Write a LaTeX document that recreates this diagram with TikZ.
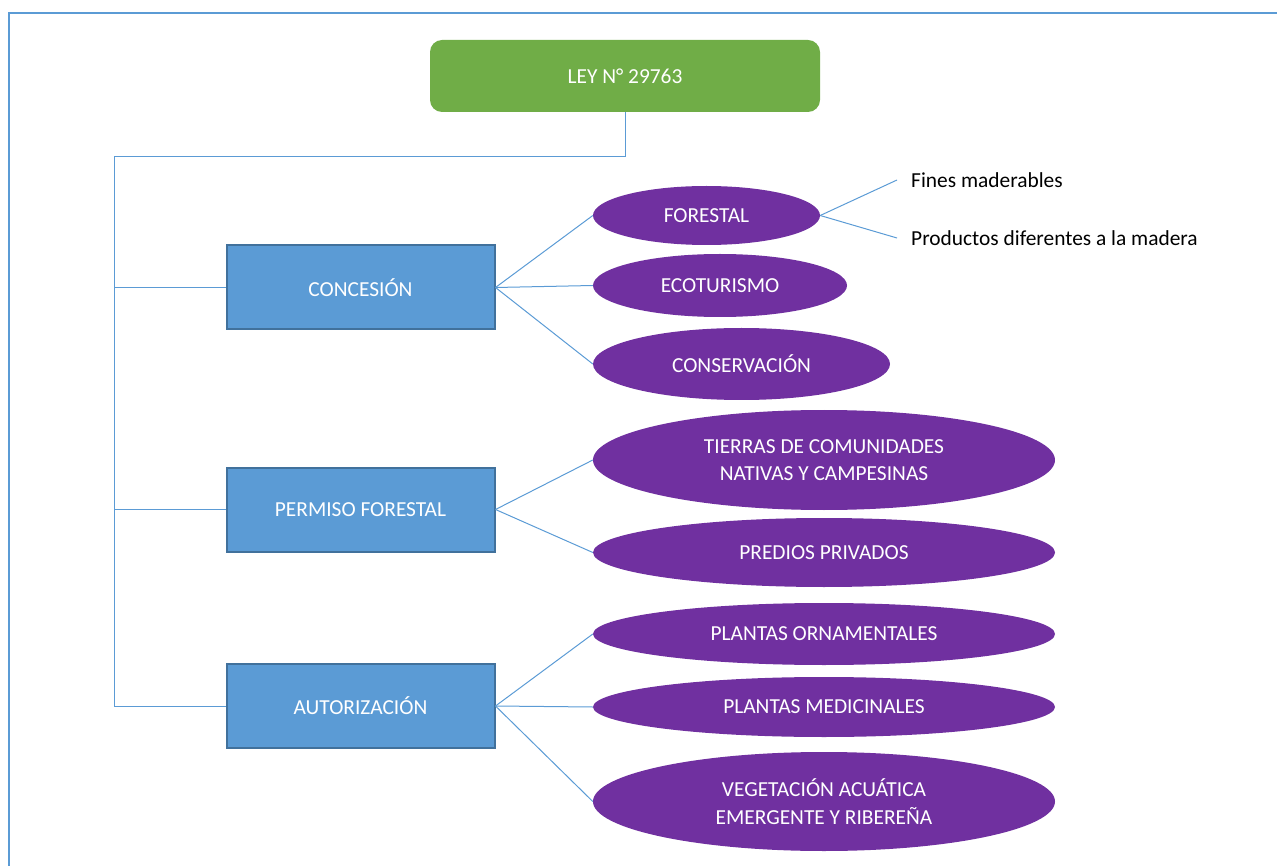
\documentclass[tikz,border=0pt]{standalone}
\usepackage{fontspec}
\setmainfont{Carlito}
\usetikzlibrary{shapes.geometric}
\definecolor{leyGreen}{HTML}{70AD47}
\definecolor{boxBlue}{HTML}{5B9BD5}
\definecolor{boxEdge}{HTML}{41719C}
\definecolor{ovalPurple}{HTML}{7030A0}
\tikzset{
  law/.style={rectangle,rounded corners=12pt,fill=leyGreen,text=white,
    minimum width=390pt,minimum height=72pt,inner sep=0pt},
  kind/.style={rectangle,fill=boxBlue,draw=boxEdge,line width=2pt,text=white,
    minimum width=268pt,minimum height=84pt,inner sep=0pt},
  oval/.style={ellipse,fill=ovalPurple,text=white,inner sep=0pt,align=center},
  link/.style={draw=boxBlue,line width=1pt},
  note/.style={anchor=west,inner sep=0pt,text=black}
}
\begin{document}
\begin{tikzpicture}[x=1pt,y=-1pt,font=\fontsize{21.4}{27.5}\selectfont]
  % page size
  \useasboundingbox (0,0) rectangle (1277,866);

  % frame
  \draw[boxBlue,line width=2.5pt] (9,866) -- (9,13) -- (1277,13);

  % help function: oval(name,x,y,width,height,text)
  \def\oval(#1,#2,#3,#4,#5,#6){\node[oval,minimum width=#4pt,minimum height=#5pt] (#1) at (#2,#3) {#6};}

  % LAW
  \node[law] (ley) at (625,76) {LEY N° 29763};

  % KINDS
  \node[kind] (conc) at (360.5,287.5) {CONCESIÓN};
  \node[kind] (perm) at (360.5,509.5) {PERMISO FORESTAL};
  \node[kind] (auto) at (360.5,706) {AUTORIZACIÓN};

  % OVALS
  \oval(fore,706.5,215.5,227,59,FORESTAL)
  \oval(ecot,720,285.5,254,63,ECOTURISMO)
  \oval(cons,741.5,364,297,72,CONSERVACIÓN)
  \oval(tier,824,460,462,100,TIERRAS DE COMUNIDADES\\NATIVAS Y CAMPESINAS)
  \oval(pred,824,552.5,462,69,PREDIOS PRIVADOS)
  \oval(orna,824,634,462,62,PLANTAS ORNAMENTALES)
  \oval(medi,824,707,462,60,PLANTAS MEDICINALES)
  \oval(vege,824,801.5,462,99,VEGETACIÓN ACUÁTICA\\EMERGENTE Y RIBEREÑA)

  % NOTES
  \node[note] (fine) at (911,180) {Fines maderables};
  \node[note] (prod) at (911,238) {Productos diferentes a la madera};

  % trunk
  \coordinate (knee) at (114,157);
  \draw[link] (ley.south) |- (knee);
  \foreach \k in {conc,perm,auto}
    \draw[link] (\k.west) -| (knee);

  % branches
  \foreach \k/\o in {conc/fore,conc/ecot,conc/cons,perm/tier,perm/pred,auto/orna,auto/medi,auto/vege}
    \draw[link] (\k.east) -- (\o.west);
  \draw[link] (fore.east) -- ([xshift=-14pt]fine.west);
  \draw[link] (fore.east) -- ([xshift=-14pt]prod.west);
\end{tikzpicture}
\end{document}
